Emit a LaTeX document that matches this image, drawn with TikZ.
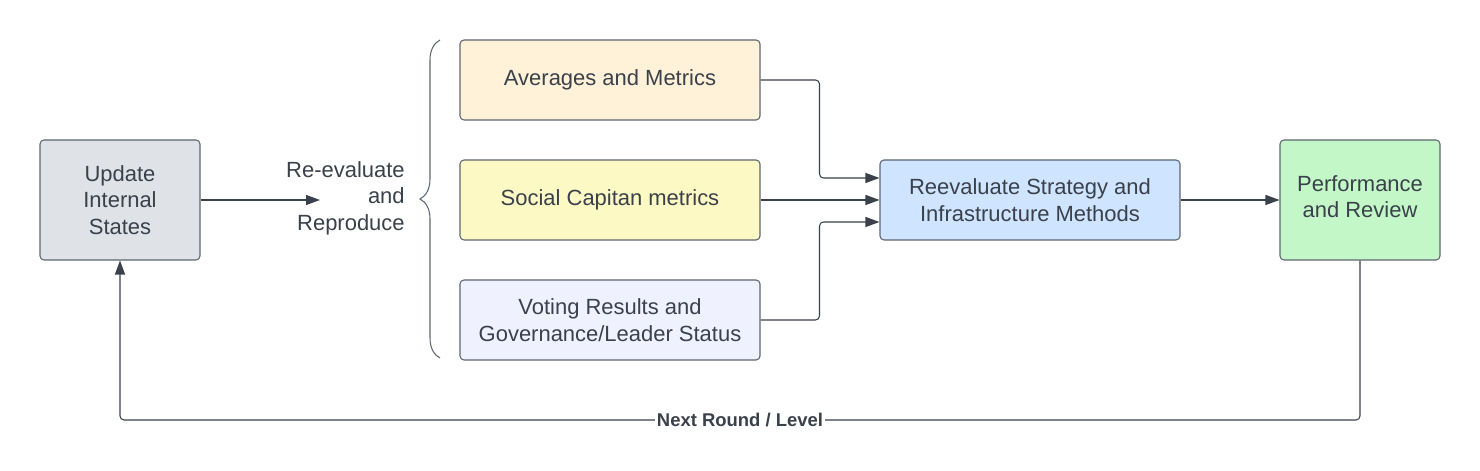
\documentclass[tikz,border=0pt]{standalone}
\usepackage{fontspec}
\setmainfont{Liberation Sans}
\usepackage{tikz}
\usetikzlibrary{positioning, arrows.meta, calc, decorations.pathreplacing}

\definecolor{ink}{HTML}{3A414A}
\definecolor{edge}{HTML}{5E6670}
\definecolor{grayfill}{HTML}{DFE3E8}
\definecolor{orangefill}{HTML}{FFF2D9}
\definecolor{yellowfill}{HTML}{FCF9C4}
\definecolor{lilacfill}{HTML}{F0F1FF}
\definecolor{bluefill}{HTML}{CFE4FF}
\definecolor{greenfill}{HTML}{C3F7C8}

\begin{document}
\begin{tikzpicture}[
	box/.style={draw=edge, line width=0.6pt, rounded corners=0.08cm, align=center, text=ink,
		font=\fontsize{12.5}{15}\selectfont},
	smallbox/.style={box, minimum width=3.2cm, minimum height=2.4cm},
	widebox/.style={box, minimum width=6cm, minimum height=1.6cm},
	flow/.style={draw=ink, line width=0.6pt, rounded corners=0.08cm,
		-{Triangle[length=0.28cm, width=0.2cm]}},
	]
	\useasboundingbox (0,0) rectangle (29.6,9.42);
	
	% Left part
	\node[smallbox, fill=grayfill] (update) at (2.4,5.42) {Update\\Internal\\States};
	\coordinate (reproarrow) at (6.4,5.42);
	\node[anchor=east, align=right, text=ink, font=\fontsize{12.5}{15}\selectfont, inner sep=0pt] (repro) at (8.1,5.46) {Re-evaluate\\and\\Reproduce};
	
	% Brace
	\draw[edge, line width=0.6pt, decorate, decoration={brace, amplitude=0.4cm}] (8.8,2.26) -- (8.8,8.62);
	
	% Middle boxes
	\node[widebox, fill=orangefill] (avg) at (12.2,7.82) {Averages and Metrics};
	\node[widebox, fill=yellowfill] (social) at (12.2,5.42) {Social Capitan metrics};
	\node[widebox, fill=lilacfill] (voting) at (12.2,3.02) {Voting Results and\\Governance/Leader Status};
	
	% Right boxes
	\node[widebox, fill=bluefill] (reeval) at (20.6,5.42) {Reevaluate Strategy and\\Infrastructure Methods};
	\node[smallbox, fill=greenfill, text depth=0.15cm] (perf) at (27.2,5.42) {Performance\\and Review};
	
	% connections
	\draw[flow] (update) -- (reproarrow);
	\draw[flow] (avg.east) -| ($(reeval.west)+(-1.2,0.44)$) -- ($(reeval.west)+(0,0.44)$);
	\draw[flow] (social) -- (reeval);
	\draw[flow] (voting.east) -| ($(reeval.west)+(-1.2,-0.44)$) -- ($(reeval.west)+(0,-0.44)$);
	\draw[flow] (reeval) -- (perf);
	
	% Feedback loop
	\coordinate (loopcorner) at (27.2,1.02);
	\draw[flow] (perf.south) -- (loopcorner) -| node[pos=0.25, fill=white, inner sep=1pt, text=ink, font=\fontsize{10.5}{12}\selectfont\bfseries] (looplabel) {Next Round / Level} (update.south);
\end{tikzpicture}
\end{document}
